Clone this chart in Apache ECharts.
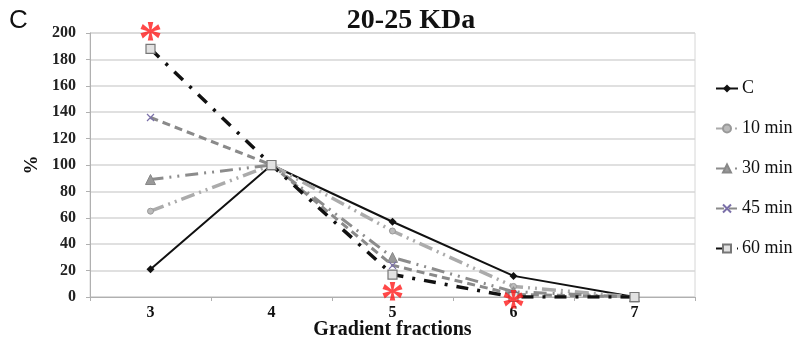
<!DOCTYPE html>
<html>
<head>
<meta charset="utf-8">
<script src="https://cdn.jsdelivr.net/npm/echarts@6/dist/echarts.min.js"></script>
<style>
  html, body { margin: 0; padding: 0; background: #fff; }
  #chart { width: 794px; height: 339px; }
</style>
</head>
<body>
<div id="chart"></div>
<script>
const fractions = ['3', '4', '5', '6', '7'];
const seriesNames = ['C', '10 min', '30 min', '45 min', '60 min'];
const valuesC = [21, 100, 57, 16, 0];
const values10 = [65, 100, 50, 8, 0];
const values30 = [89, 100, 30, 4, 0];
const values45 = [136, 100, 24, 2, 0];
const values60 = [188, 100, 17, 0, 0];
// red significance marks: [fraction, y position in %]
const starMarks = [['3', 201], ['5', 4], ['6', -2]];

const serif = 'Liberation Serif';
const chart = echarts.init(document.getElementById('chart'));

function lineSeries(name, data, color, width, dash, symbol, symbolSize, itemStyle) {
    return {
        name: name,
        type: 'line',
        data: data,
        symbol: symbol,
        symbolSize: symbolSize,
        lineStyle: { color: color, width: width, type: dash },
        itemStyle: itemStyle,
        z: 3
    };
}

const option = {
    backgroundColor: '#fff',
    animation: false,
    title: {
        text: '20-25 KDa',
        left: 406,
        textAlign: 'center',
        top: 2,
        textStyle: { fontFamily: serif, fontWeight: 'bold', fontSize: 28, color: '#111' }
    },
    graphic: [{
        type: 'text',
        left: 9,
        top: 8,
        style: { text: 'C', font: '26px "Liberation Sans"', fill: '#111' }
    }],
    legend: {
        orient: 'vertical',
        left: 710,
        top: 73,
        itemWidth: 22,
        itemHeight: 10,
        itemGap: 19,
        data: seriesNames,
        textStyle: { fontFamily: serif, fontSize: 18, lineHeight: 21, color: '#111', padding: [0, 0, 0, -1] }
    },
    grid: {
        left: 90,
        right: 99,
        top: 33,
        bottom: 42,
        outerBoundsMode: 'none',
        show: true,
        borderColor: '#d6d6d6',
        borderWidth: 1
    },
    xAxis: {
        type: 'category',
        data: fractions,
        boundaryGap: true,
        name: 'Gradient fractions',
        nameLocation: 'middle',
        nameGap: 23,
        nameMoveOverlap: false,
        nameTextStyle: { fontFamily: serif, fontWeight: 'bold', fontSize: 20, color: '#111', verticalAlign: 'top' },
        axisLine: { lineStyle: { color: '#b0b0b0' } },
        axisTick: { show: true, length: 4, lineStyle: { color: '#b0b0b0' } },
        axisLabel: { fontFamily: serif, fontWeight: 'bold', fontSize: 16, color: '#111', margin: 8 }
    },
    yAxis: {
        type: 'value',
        min: 0,
        max: 200,
        interval: 20,
        name: '%',
        nameLocation: 'middle',
        nameGap: 44,
        nameRotate: 90,
        nameTextStyle: { fontFamily: serif, fontWeight: 'bold', fontSize: 19, color: '#111' },
        axisLine: { show: true, lineStyle: { color: '#b0b0b0' } },
        axisTick: { show: true, length: 4, lineStyle: { color: '#b0b0b0' } },
        axisLabel: { fontFamily: serif, fontWeight: 'bold', fontSize: 16, color: '#222', margin: 14 },
        splitLine: { lineStyle: { color: '#d6d6d6', width: 1.5 } }
    },
    series: [
        lineSeries('C', valuesC, '#111', 2, 'solid', 'diamond', 8,
            { color: '#111' }),
        lineSeries('10 min', values10, '#ababab', 3.5, [14, 5, 2, 5, 2, 5], 'circle', 6,
            { color: '#bbb', borderColor: '#999', borderWidth: 1 }),
        lineSeries('30 min', values30, '#8c8c8c', 3, [13, 6, 2, 6, 2, 6], 'triangle', 10,
            { color: '#999', borderColor: '#888', borderWidth: 1 }),
        lineSeries('45 min', values45, '#8a8a8a', 3, [8, 5], 'path://M-1,-1L1,1M1,-1L-1,1', 7,
            { color: 'none', borderColor: '#7a6fa8', borderWidth: 1.2 }),
        lineSeries('60 min', values60, '#111', 3.5, [12, 9, 3, 9], 'rect', 9,
            { color: '#e2e2e2', borderColor: '#777', borderWidth: 1.2 }),
        {
            name: 'sig',
            type: 'scatter',
            data: starMarks,
            symbol: 'circle',
            symbolSize: 2,
            itemStyle: { color: 'rgba(0,0,0,0)' },
            clip: false,
            silent: true,
            z: 10,
            label: {
                show: true,
                position: 'inside',
                formatter: '*',
                fontFamily: serif,
                fontWeight: 'bold',
                fontSize: 48,
                color: '#ff1a1a',
                offset: [0, 10]
            }
        }
    ]
};

chart.setOption(option);
</script>
</body>
</html>
